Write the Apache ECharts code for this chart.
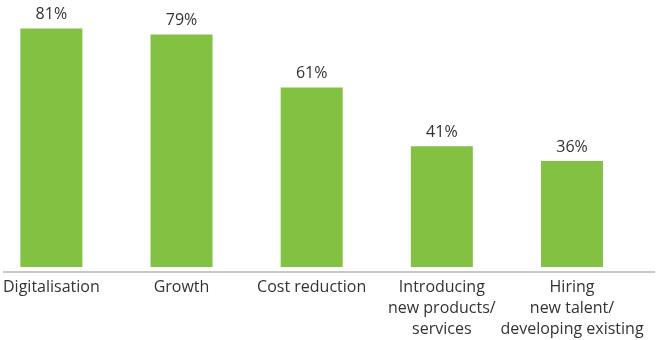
<!DOCTYPE html>
<html>
<head>
<meta charset="utf-8">
<script src="https://cdn.jsdelivr.net/npm/echarts@6/dist/echarts.min.js"></script>
<style>
  html, body { margin: 0; padding: 0; background: #fff; }
  #chart { width: 660px; height: 340px; }
</style>
</head>
<body>
<div id="chart"></div>
<script>
// 数据
const categories = [
  'Digitalisation',
  'Growth',
  'Cost reduction',
  'Introducing\nnew products/\nservices',
  'Hiring\nnew talent/\ndeveloping existing'
];
const values = [81, 79, 61, 41, 36];

const myChart = echarts.init(document.getElementById('chart'));

const option = {
  animation: false,
  textStyle: { fontFamily: '"Open Sans", sans-serif' },
  // 类目点位于柱子中心（boundaryGap: false）
  grid: {
    left: 48,
    right: 88,
    top: 2,
    bottom: 68,
    containLabel: false
  },
  xAxis: {
    type: 'category',
    data: categories,
    boundaryGap: false,
    axisLine: { show: false },
    axisTick: { show: false },
    axisLabel: {
      color: '#333',
      fontSize: 16,
      lineHeight: 21,
      margin: 10,
      interval: 0
    }
  },
  yAxis: {
    type: 'value',
    min: 0,
    max: 90,
    show: false
  },
  // 底部轴线
  graphic: [{
    type: 'line',
    shape: { x1: 3, y1: 272, x2: 655, y2: 272 },
    style: { stroke: '#c8c8c8', lineWidth: 2 }
  }],
  series: [{
    type: 'bar',
    data: values,
    barWidth: 62,
    clip: false,
    itemStyle: { color: '#82c142' },
    label: {
      show: true,
      position: 'top',
      distance: 6,
      color: '#333',
      fontSize: 16,
      formatter: '{c}%'
    }
  }]
};

myChart.setOption(option);
</script>
</body>
</html>
